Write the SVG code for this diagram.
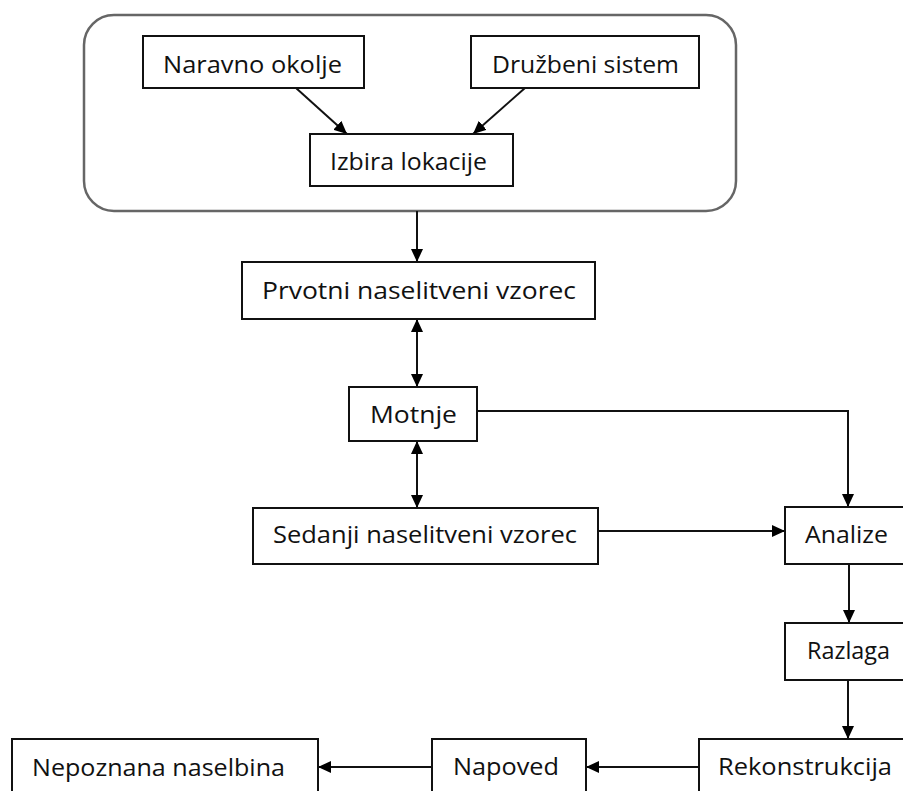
<svg xmlns="http://www.w3.org/2000/svg" width="903" height="791" viewBox="0 0 903 791">
<style>
.box{fill:#fff;stroke:#111;stroke-width:2}
.t{font-family:"Open Sans","Liberation Sans",sans-serif;font-size:24px;fill:#111}
.c{fill:none;stroke:#111;stroke-width:2}
</style>
<defs>
<marker id="ah" markerUnits="userSpaceOnUse" markerWidth="13" markerHeight="12" refX="13" refY="6" orient="auto-start-reverse" viewBox="0 0 13 12">
<path d="M0,0 L13,6 L0,12 z" fill="#000"/>
</marker>
</defs>
<rect width="903" height="791" fill="#fff"/>
<g id="container">
<rect x="84" y="15" width="652" height="196" rx="30" ry="30" fill="#fff" stroke="#666" stroke-width="2.5"/>
</g>
<g id="connectors">
<line class="c" x1="296" y1="88" x2="347" y2="134" marker-end="url(#ah)"/>
<line class="c" x1="525" y1="88" x2="473" y2="134" marker-end="url(#ah)"/>
<line class="c" x1="417" y1="211" x2="417" y2="262" marker-end="url(#ah)"/>
<line class="c" x1="417" y1="319" x2="417" y2="387" marker-start="url(#ah)" marker-end="url(#ah)"/>
<line class="c" x1="417" y1="441" x2="417" y2="508" marker-start="url(#ah)" marker-end="url(#ah)"/>
<polyline class="c" points="477,411 848,411 848,507" marker-end="url(#ah)"/>
<line class="c" x1="598" y1="531" x2="785" y2="531" marker-end="url(#ah)"/>
<line class="c" x1="849" y1="564" x2="849" y2="623" marker-end="url(#ah)"/>
<line class="c" x1="848" y1="680" x2="848" y2="739" marker-end="url(#ah)"/>
<line class="c" x1="699" y1="767" x2="586" y2="767" marker-end="url(#ah)"/>
<line class="c" x1="432" y1="767" x2="318" y2="767" marker-end="url(#ah)"/>
</g>
<g id="naravno">
<rect class="box" x="143" y="36" width="221" height="52"/>
<text class="t" x="163" y="73" textLength="179" lengthAdjust="spacingAndGlyphs">Naravno okolje</text>
</g>
<g id="druzbeni">
<rect class="box" x="471" y="36" width="228" height="52"/>
<text class="t" x="492" y="73" textLength="187" lengthAdjust="spacingAndGlyphs">Družbeni sistem</text>
</g>
<g id="izbira">
<rect class="box" x="310" y="134" width="203" height="52"/>
<text class="t" x="330" y="170" textLength="157" lengthAdjust="spacingAndGlyphs">Izbira lokacije</text>
</g>
<g id="prvotni">
<rect class="box" x="242" y="262" width="353" height="57"/>
<text class="t" x="262" y="299" textLength="314" lengthAdjust="spacingAndGlyphs">Prvotni naselitveni vzorec</text>
</g>
<g id="motnje">
<rect class="box" x="349" y="387" width="128" height="54"/>
<text class="t" x="370" y="423" textLength="87" lengthAdjust="spacingAndGlyphs">Motnje</text>
</g>
<g id="sedanji">
<rect class="box" x="253" y="508" width="345" height="56"/>
<text class="t" x="273" y="543" textLength="304" lengthAdjust="spacingAndGlyphs">Sedanji naselitveni vzorec</text>
</g>
<g id="analize">
<rect class="box" x="785" y="507" width="130" height="57"/>
<text class="t" x="805" y="543" textLength="83" lengthAdjust="spacingAndGlyphs">Analize</text>
</g>
<g id="razlaga">
<rect class="box" x="785" y="623" width="130" height="57"/>
<text class="t" x="807" y="659" textLength="83" lengthAdjust="spacingAndGlyphs">Razlaga</text>
</g>
<g id="rekonstrukcija">
<rect class="box" x="699" y="739" width="220" height="57"/>
<text class="t" x="718" y="775" textLength="174" lengthAdjust="spacingAndGlyphs">Rekonstrukcija</text>
</g>
<g id="napoved">
<rect class="box" x="432" y="739" width="154" height="57"/>
<text class="t" x="453" y="775" textLength="106" lengthAdjust="spacingAndGlyphs">Napoved</text>
</g>
<g id="nepoznana">
<rect class="box" x="12" y="739" width="306" height="57"/>
<text class="t" x="32" y="776" textLength="253" lengthAdjust="spacingAndGlyphs">Nepoznana naselbina</text>
</g>
</svg>
